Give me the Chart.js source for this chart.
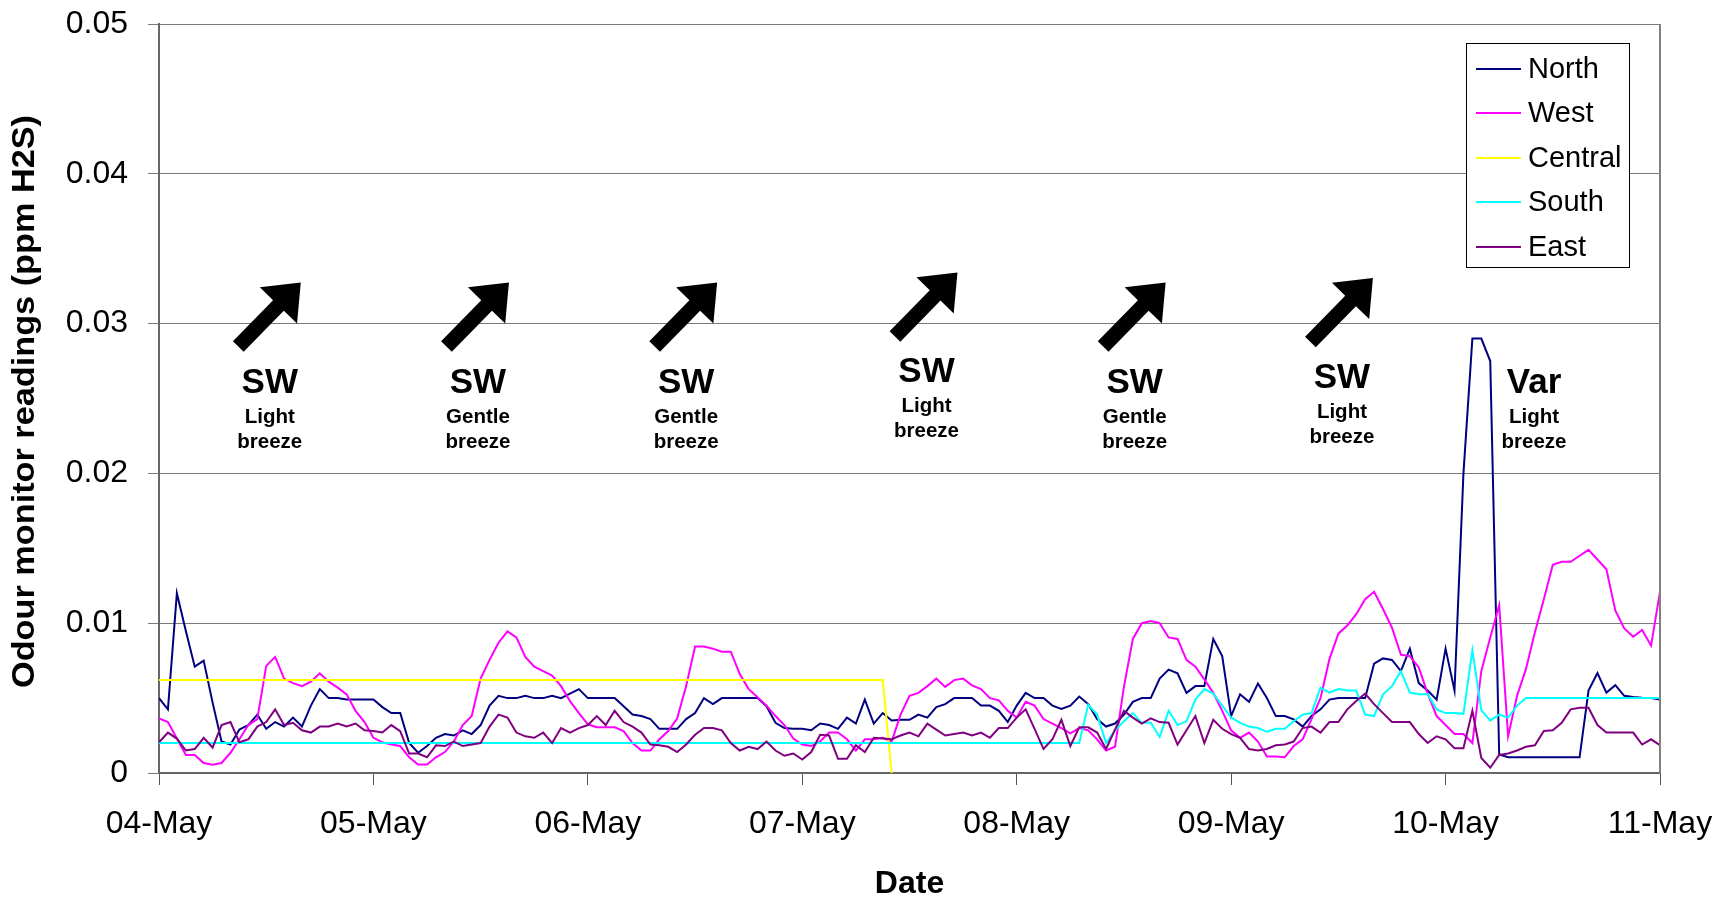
<!doctype html>
<html lang="en">
  <head>
    <meta charset="utf-8">
    <title>Odour monitor readings</title>
    <style>
      html, body { margin: 0; padding: 0; background: #fff; }
      .container { width: 1718px; height: 897px; }
    </style>
  </head>
  <body>
    <div class="container">
      <canvas id="myChart" width="1718" height="897"></canvas>
    </div>

    <script src="https://cdn.jsdelivr.net/npm/chart.js"></script>
    <script>
      const fontFamily = '"Liberation Sans", Arial, sans-serif'
      const dateLabels = ['04-May', '05-May', '06-May', '07-May', '08-May', '09-May', '10-May', '11-May']
      const yTickLabels = ['0', '0.01', '0.02', '0.03', '0.04', '0.05']
      const seriesNames = ['North', 'West', 'Central', 'South', 'East']
      const seriesColors = ['#000080', '#ff00ff', '#ffff00', '#00ffff', '#800080']

      // hourly readings from 04-May 00:00, in thousandths of ppm H2S
      const north = [
        5.0, 4.25, 12.0, 9.5, 7.1, 7.5, 4.7, 2.1, 1.9, 2.9,
        3.2, 3.9, 2.95, 3.4, 3.1, 3.7, 3.1, 4.5, 5.6, 5.0,
        5.0, 4.9, 4.9, 4.9, 4.9, 4.4, 4.0, 4.0, 2.0, 1.35,
        1.8, 2.35, 2.6, 2.5, 2.85, 2.6, 3.2, 4.5, 5.15, 5.0,
        5.0, 5.15, 5.0, 5.0, 5.15, 5.0, 5.3, 5.6, 5.0, 5.0,
        5.0, 5.0, 4.45, 3.9, 3.8, 3.6, 2.95, 2.95, 2.95, 3.6,
        4.0, 5.0, 4.6, 5.0, 5.0, 5.0, 5.0, 5.0, 4.45, 3.35,
        3.0, 2.95, 2.95, 2.85, 3.3, 3.2, 2.95, 3.7, 3.3, 4.9,
        3.3, 4.0, 3.5, 3.55, 3.55, 3.9, 3.7, 4.4, 4.6, 5.0,
        5.0, 5.0, 4.5, 4.5, 4.15, 3.4, 4.5, 5.35, 5.0, 5.0,
        4.5, 4.27, 4.5, 5.1, 4.6, 3.6, 3.1, 3.3, 3.9, 4.75,
        5.0, 5.0, 6.3, 6.9, 6.65, 5.35, 5.8, 5.8, 8.95, 7.8,
        3.8, 5.25, 4.75, 5.97, 5.0, 3.8, 3.8, 3.58, 3.1, 3.8,
        4.25, 4.9, 5.0, 5.0, 5.0, 5.0, 7.3, 7.65, 7.55, 6.8,
        8.3, 6.0, 5.5, 4.9, 8.3, 5.5, 20.0, 29.0, 29.0, 27.5,
        1.23, 1.05, 1.05, 1.05, 1.05, 1.05, 1.05, 1.05, 1.05, 1.05,
        5.5, 6.67, 5.37, 5.86, 5.15, 5.08, 5.03, 5.0, 4.9
      ]
      const west = [
        3.65, 3.4, 2.3, 1.2, 1.2, 0.67, 0.56, 0.67, 1.35, 2.25,
        3.2, 3.6, 7.15, 7.75, 6.3, 6.0, 5.8, 6.1, 6.65, 6.1,
        5.7, 5.25, 4.15, 3.4, 2.35, 2.05, 1.9, 1.8, 1.05, 0.56,
        0.56, 1.05, 1.4, 2.1, 3.2, 3.8, 6.3, 7.55, 8.7, 9.45,
        9.05, 7.75, 7.1, 6.8, 6.5, 5.8, 4.8, 4.0, 3.25, 3.05,
        3.05, 3.05, 2.8, 2.0, 1.5, 1.5, 2.25, 2.8, 3.65, 5.8,
        8.45, 8.45, 8.3, 8.1, 8.1, 6.6, 5.6, 5.05, 4.5, 3.8,
        3.2, 2.3, 1.9, 1.8, 2.1, 2.7, 2.7, 2.25, 1.5, 2.25,
        2.25, 2.35, 2.1, 3.9, 5.15, 5.35, 5.8, 6.3, 5.75, 6.2,
        6.3, 5.85, 5.6, 5.0, 4.85, 4.15, 3.7, 4.75, 4.5, 3.6,
        3.3, 3.0, 2.65, 3.0, 2.85, 2.25, 1.5, 1.75, 5.75, 8.95,
        10.0, 10.15, 10.0, 9.05, 8.95, 7.55, 7.1, 6.25, 5.35, 4.15,
        2.85, 2.35, 2.7, 2.1, 1.1, 1.1, 1.05, 1.8, 2.25, 3.6,
        5.0, 7.6, 9.3, 9.85, 10.6, 11.6, 12.1, 10.95, 9.7, 7.9,
        7.8, 7.05, 5.3, 3.8, 3.2, 2.6, 2.6, 2.0, 6.8, 9.05,
        11.2, 2.45, 5.15, 6.95, 9.4, 11.6, 13.9, 14.1, 14.1, 14.5,
        14.9, 14.25, 13.6, 10.85, 9.65, 9.1, 9.55, 8.5, 12.1
      ]
      // Central stops reporting after it drops to zero on 07-May
      const central = [
        6.2, 6.2, 6.2, 6.2, 6.2, 6.2, 6.2, 6.2, 6.2, 6.2,
        6.2, 6.2, 6.2, 6.2, 6.2, 6.2, 6.2, 6.2, 6.2, 6.2,
        6.2, 6.2, 6.2, 6.2, 6.2, 6.2, 6.2, 6.2, 6.2, 6.2,
        6.2, 6.2, 6.2, 6.2, 6.2, 6.2, 6.2, 6.2, 6.2, 6.2,
        6.2, 6.2, 6.2, 6.2, 6.2, 6.2, 6.2, 6.2, 6.2, 6.2,
        6.2, 6.2, 6.2, 6.2, 6.2, 6.2, 6.2, 6.2, 6.2, 6.2,
        6.2, 6.2, 6.2, 6.2, 6.2, 6.2, 6.2, 6.2, 6.2, 6.2,
        6.2, 6.2, 6.2, 6.2, 6.2, 6.2, 6.2, 6.2, 6.2, 6.2,
        6.2, 6.2, 0
      ]
      const south = [
        2.0, 2.0, 2.0, 2.0, 2.0, 2.0, 2.0, 2.0, 2.0, 2.0,
        2.0, 2.0, 2.0, 2.0, 2.0, 2.0, 2.0, 2.0, 2.0, 2.0,
        2.0, 2.0, 2.0, 2.0, 2.0, 2.0, 2.0, 2.0, 2.0, 2.0,
        2.0, 2.0, 2.0, 2.0, 2.0, 2.0, 2.0, 2.0, 2.0, 2.0,
        2.0, 2.0, 2.0, 2.0, 2.0, 2.0, 2.0, 2.0, 2.0, 2.0,
        2.0, 2.0, 2.0, 2.0, 2.0, 2.0, 2.0, 2.0, 2.0, 2.0,
        2.0, 2.0, 2.0, 2.0, 2.0, 2.0, 2.0, 2.0, 2.0, 2.0,
        2.0, 2.0, 2.0, 2.0, 2.0, 2.0, 2.0, 2.0, 2.0, 2.0,
        2.0, 2.0, 2.0, 2.0, 2.0, 2.0, 2.0, 2.0, 2.0, 2.0,
        2.0, 2.0, 2.0, 2.0, 2.0, 2.0, 2.0, 2.0, 2.0, 2.0,
        2.0, 2.0, 2.0, 2.0, 4.55, 3.9, 2.0, 2.85, 3.45, 4.0,
        3.35, 3.35, 2.4, 4.15, 3.2, 3.45, 4.9, 5.6, 5.3, 4.5,
        3.7, 3.35, 3.1, 3.0, 2.75, 2.95, 2.95, 3.45, 3.9, 4.0,
        5.7, 5.37, 5.6, 5.5, 5.5, 3.9, 3.8, 5.25, 5.8, 6.8,
        5.37, 5.25, 5.25, 4.25, 4.0, 4.0, 3.95, 8.2, 4.2, 3.5,
        3.9, 3.7, 4.5, 5.0, 5.0, 5.0, 5.0, 5.0, 5.0, 5.0,
        5.0, 5.0, 5.0, 5.0, 5.0, 5.0, 5.0, 5.0, 5.0
      ]
      const east = [
        2.05, 2.7, 2.3, 1.5, 1.6, 2.35, 1.7, 3.2, 3.4, 2.05,
        2.25, 3.1, 3.4, 4.25, 3.2, 3.35, 2.85, 2.7, 3.1, 3.1,
        3.3, 3.1, 3.3, 2.85, 2.8, 2.7, 3.2, 2.8, 1.3, 1.3,
        1.05, 1.85, 1.8, 2.1, 1.8, 1.9, 2.0, 3.1, 3.9, 3.7,
        2.7, 2.45, 2.35, 2.7, 2.0, 3.0, 2.7, 3.0, 3.2, 3.8,
        3.2, 4.15, 3.4, 3.1, 2.7, 1.9, 1.85, 1.75, 1.4, 1.9,
        2.55, 3.0, 3.0, 2.85, 2.0, 1.5, 1.75, 1.6, 2.1, 1.5,
        1.15, 1.3, 0.9, 1.4, 2.55, 2.5, 0.95, 0.95, 1.85, 1.4,
        2.35, 2.3, 2.25, 2.5, 2.7, 2.45, 3.3, 2.9, 2.5, 2.6,
        2.7, 2.5, 2.7, 2.35, 3.0, 3.0, 3.7, 4.25, 2.95, 1.6,
        2.25, 3.55, 1.8, 3.05, 3.05, 2.7, 1.6, 2.9, 4.15, 3.7,
        3.3, 3.65, 3.4, 3.35, 1.9, 2.85, 3.8, 2.0, 3.55, 2.95,
        2.6, 2.35, 1.6, 1.5, 1.6, 1.85, 1.9, 2.1, 3.0, 3.1,
        2.7, 3.4, 3.4, 4.25, 4.8, 5.3, 4.6, 4.0, 3.4, 3.4,
        3.4, 2.6, 2.0, 2.45, 2.25, 1.65, 1.65, 4.15, 1.0, 0.35,
        1.2, 1.3, 1.5, 1.75, 1.85, 2.8, 2.85, 3.35, 4.25, 4.35,
        4.35, 3.2, 2.7, 2.7, 2.7, 2.7, 1.9, 2.25, 1.85
      ]
      const allSeries = [north, west, central, south, east]

      // wind notes: hour of the note's centre, level of the big text baseline
      const windDirs = ['SW', 'SW', 'SW', 'SW', 'SW', 'SW', 'Var']
      const windStrengths = ['Light', 'Gentle', 'Gentle', 'Light', 'Gentle', 'Light', 'Light']
      const windHours = [12.4, 35.7, 59.0, 85.9, 109.2, 132.4, 153.9]
      const windLevels = [25.6, 25.6, 25.6, 26.27, 25.6, 25.9, 25.6]
      const windArrows = [true, true, true, true, true, true, false]

      const yTitle = 'Odour monitor readings (ppm H2S)'

      function toPoints(values) {
        return values.map((v, hour) => ({ x: hour, y: v }))
      }

      function drawArrow(ctx, x0, y0, x1, y1) {
        const len = Math.hypot(x1 - x0, y1 - y0)
        ctx.save()
        ctx.translate(x0, y0)
        ctx.rotate(Math.atan2(y1 - y0, x1 - x0))
        ctx.beginPath()
        ctx.moveTo(0, -7.5)
        ctx.lineTo(len - 32, -7.5)
        ctx.lineTo(len - 32, -26)
        ctx.lineTo(len, 0)
        ctx.lineTo(len - 32, 26)
        ctx.lineTo(len - 32, 7.5)
        ctx.lineTo(0, 7.5)
        ctx.closePath()
        ctx.fill()
        ctx.restore()
      }

      const notesPlugin = {
        id: 'notes',
        afterDatasetsDraw(chart) {
          const { ctx, chartArea, scales: { x, y } } = chart
          ctx.save()

          // right edge of the plot area
          ctx.strokeStyle = '#808080'
          ctx.lineWidth = 2
          ctx.beginPath()
          ctx.moveTo(chartArea.right, chartArea.top)
          ctx.lineTo(chartArea.right, chartArea.bottom)
          ctx.stroke()

          // wind notes
          ctx.fillStyle = '#000'
          ctx.textAlign = 'center'
          ctx.textBaseline = 'alphabetic'
          windDirs.forEach((dir, i) => {
            const cx = x.getPixelForValue(windHours[i])
            const by = y.getPixelForValue(windLevels[i])
            ctx.font = 'bold 35px ' + fontFamily
            ctx.fillText(dir, cx, by + 3)
            ctx.font = 'bold 20.5px ' + fontFamily
            ctx.fillText(windStrengths[i], cx, by + 33)
            ctx.fillText('breeze', cx, by + 58)
            if (windArrows[i]) drawArrow(ctx, cx - 31.5, by - 43, cx + 31, by - 107)
          })

          // legend box
          const lx = chartArea.right - 194
          const ly = chartArea.top + 19
          ctx.fillStyle = '#fff'
          ctx.fillRect(lx, ly, 163, 224)
          ctx.strokeStyle = '#000'
          ctx.lineWidth = 1
          ctx.strokeRect(lx + 0.5, ly + 0.5, 163, 224)
          ctx.font = '29px ' + fontFamily
          ctx.textAlign = 'left'
          ctx.textBaseline = 'middle'
          chart.data.datasets.forEach((ds, i) => {
            const ry = Math.round(ly + 25.5 + i * 44.6)
            ctx.strokeStyle = ds.borderColor
            ctx.lineWidth = 2
            ctx.beginPath()
            ctx.moveTo(lx + 10, ry)
            ctx.lineTo(lx + 55, ry)
            ctx.stroke()
            ctx.fillStyle = '#000'
            ctx.fillText(ds.label, lx + 62, ry + 1)
          })
          ctx.restore()
        },
        afterDraw(chart) {
          const { ctx, chartArea } = chart
          ctx.save()
          ctx.fillStyle = '#000'
          ctx.font = 'bold 32px ' + fontFamily
          ctx.textAlign = 'center'
          ctx.textBaseline = 'alphabetic'
          ctx.fillText('Date', (chartArea.left + chartArea.right) / 2, 893)

          ctx.translate(25.5, (chartArea.top + chartArea.bottom) / 2 + 3)
          ctx.rotate(-Math.PI / 2)
          ctx.font = 'bold 32px ' + fontFamily
          const w = ctx.measureText(yTitle).width
          ctx.scale(573 / w, 1)
          ctx.textBaseline = 'middle'
          ctx.fillText(yTitle, 0, 0)
          ctx.restore()
        }
      }

      Chart.defaults.font.family = fontFamily
      Chart.defaults.color = '#000'

      const data = {
        datasets: seriesNames.map((name, k) => ({
          label: name,
          data: toPoints(allSeries[k]),
          borderColor: seriesColors[k],
          backgroundColor: seriesColors[k],
          borderWidth: 2,
          pointRadius: 0,
          tension: 0,
          fill: false,
          order: seriesNames.length - k
        }))
      }

      const config = {
        type: 'line',
        data,
        options: {
          responsive: false,
          animation: false,
          layout: { padding: { top: 24, right: 58, left: 0, bottom: 0 } },
          plugins: {
            legend: { display: false },
            tooltip: { enabled: false }
          },
          scales: {
            x: {
              type: 'linear',
              min: 0,
              max: 168,
              afterFit: (scale) => {
                scale.height = 124
                scale.paddingLeft = 0
                scale.paddingRight = 0
              },
              ticks: {
                stepSize: 24,
                autoSkip: false,
                maxRotation: 0,
                padding: 20,
                font: { size: 32 },
                color: '#000',
                callback: (v) => dateLabels[v / 24]
              },
              grid: { drawOnChartArea: false, tickLength: 12, color: '#555' },
              border: { color: '#666', width: 2 }
            },
            y: {
              min: 0,
              max: 50,
              afterFit: (scale) => {
                scale.width = 159
                scale.paddingTop = 0
                scale.paddingBottom = 0
              },
              ticks: {
                stepSize: 10,
                padding: 20,
                font: { size: 32 },
                color: '#000',
                callback: (v) => yTickLabels[v / 10]
              },
              grid: { tickLength: 11, color: '#7a7a7a' },
              border: { color: '#666', width: 2 }
            }
          }
        },
        plugins: [notesPlugin]
      }

      var myChart = new Chart(document.getElementById('myChart'), config)
    </script>
  </body>
</html>
